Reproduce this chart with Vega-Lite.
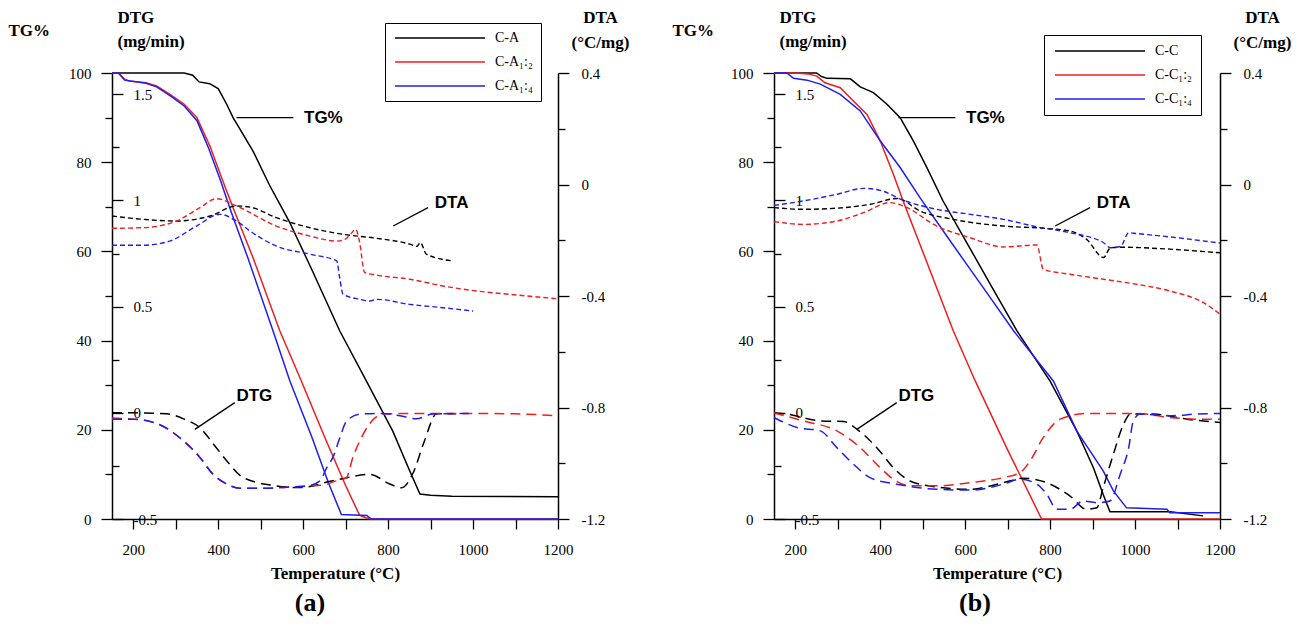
{
"$schema": "https://vega.github.io/schema/vega-lite/v6.json",
"padding": {"left": 8, "top": 8, "right": 5, "bottom": 5},
"background": "white",
"config": {
  "view": {"stroke": null},
  "axis": {"grid": false, "labelFont": "Liberation Serif", "labelFontSize": 15, "labelColor": "#000", "tickColor": "#000", "domainColor": "#000", "titleColor": "#000", "titleFont": "Liberation Serif", "titleFontSize": 17, "titleFontWeight": "bold", "domainWidth": 1.5, "tickWidth": 1.3, "labelFlush": false, "labelOverlap": false},
  "legend": {"labelFont": "Liberation Serif", "labelFontSize": 14, "labelColor": "#000"}
},
"datasets": {
  "ar": [
    {"x": 443, "y": 90, "x2": 577, "y2": 90},
    {"x": 812, "y": 65.7, "x2": 894, "y2": 69.8},
    {"x": 345, "y": 20.1, "x2": 439, "y2": 26.1}
  ],
  "at": [
    {"x": 602, "y": 90, "t": "TG%"},
    {"x": 910, "y": 70.9, "t": "DTA"},
    {"x": 443, "y": 27.6, "t": "DTG"}
  ],
  "a": [
    {"s":"C-A","m":"TG","T":150,"v":100},{"s":"C-A","m":"TG","T":320,"v":100},{"s":"C-A","m":"TG","T":340,"v":99.5},{"s":"C-A","m":"TG","T":355,"v":98},{"s":"C-A","m":"TG","T":380,"v":97.6},{"s":"C-A","m":"TG","T":400,"v":96.5},{"s":"C-A","m":"TG","T":420,"v":93},{"s":"C-A","m":"TG","T":435,"v":90},{"s":"C-A","m":"TG","T":460,"v":86},{"s":"C-A","m":"TG","T":482,"v":82.5},{"s":"C-A","m":"TG","T":520,"v":75},{"s":"C-A","m":"TG","T":569,"v":66.4},{"s":"C-A","m":"TG","T":620,"v":56},{"s":"C-A","m":"TG","T":686,"v":42.2},{"s":"C-A","m":"TG","T":749,"v":30.9},{"s":"C-A","m":"TG","T":811,"v":19.7},{"s":"C-A","m":"TG","T":850,"v":11},{"s":"C-A","m":"TG","T":875,"v":5.6},{"s":"C-A","m":"TG","T":900,"v":5.3},{"s":"C-A","m":"TG","T":950,"v":5.1},{"s":"C-A","m":"TG","T":1200,"v":5},
    {"s":"C-A₁:₂","m":"TG","T":150,"v":100},{"s":"C-A₁:₂","m":"TG","T":165,"v":100},{"s":"C-A₁:₂","m":"TG","T":180,"v":98.6},{"s":"C-A₁:₂","m":"TG","T":190,"v":98.2},{"s":"C-A₁:₂","m":"TG","T":230,"v":97.8},{"s":"C-A₁:₂","m":"TG","T":255,"v":97.1},{"s":"C-A₁:₂","m":"TG","T":270,"v":96.2},{"s":"C-A₁:₂","m":"TG","T":290,"v":95},{"s":"C-A₁:₂","m":"TG","T":320,"v":93},{"s":"C-A₁:₂","m":"TG","T":350,"v":90},{"s":"C-A₁:₂","m":"TG","T":381,"v":83.5},{"s":"C-A₁:₂","m":"TG","T":410,"v":76},{"s":"C-A₁:₂","m":"TG","T":435,"v":69.8},{"s":"C-A₁:₂","m":"TG","T":482,"v":58.6},{"s":"C-A₁:₂","m":"TG","T":545,"v":42.2},{"s":"C-A₁:₂","m":"TG","T":596,"v":30.9},{"s":"C-A₁:₂","m":"TG","T":650,"v":18.5},{"s":"C-A₁:₂","m":"TG","T":700,"v":7.5},{"s":"C-A₁:₂","m":"TG","T":733,"v":0.8},{"s":"C-A₁:₂","m":"TG","T":748,"v":0.3},{"s":"C-A₁:₂","m":"TG","T":760,"v":0},{"s":"C-A₁:₂","m":"TG","T":1200,"v":0},
    {"s":"C-A₁:₄","m":"TG","T":150,"v":100},{"s":"C-A₁:₄","m":"TG","T":165,"v":100},{"s":"C-A₁:₄","m":"TG","T":180,"v":98.4},{"s":"C-A₁:₄","m":"TG","T":230,"v":97.7},{"s":"C-A₁:₄","m":"TG","T":255,"v":96.9},{"s":"C-A₁:₄","m":"TG","T":290,"v":94.7},{"s":"C-A₁:₄","m":"TG","T":320,"v":92.6},{"s":"C-A₁:₄","m":"TG","T":350,"v":89.3},{"s":"C-A₁:₄","m":"TG","T":378,"v":83},{"s":"C-A₁:₄","m":"TG","T":405,"v":76},{"s":"C-A₁:₄","m":"TG","T":430,"v":69},{"s":"C-A₁:₄","m":"TG","T":470,"v":58.5},{"s":"C-A₁:₄","m":"TG","T":529,"v":42.2},{"s":"C-A₁:₄","m":"TG","T":569,"v":30.9},{"s":"C-A₁:₄","m":"TG","T":620,"v":18.5},{"s":"C-A₁:₄","m":"TG","T":660,"v":8},{"s":"C-A₁:₄","m":"TG","T":690,"v":1},{"s":"C-A₁:₄","m":"TG","T":750,"v":0.8},{"s":"C-A₁:₄","m":"TG","T":760,"v":0},{"s":"C-A₁:₄","m":"TG","T":1200,"v":0},
    {"s":"C-A","m":"DTG","T":150,"v":0},{"s":"C-A","m":"DTG","T":200,"v":0},{"s":"C-A","m":"DTG","T":279,"v":-0.005},{"s":"C-A","m":"DTG","T":320,"v":-0.03},{"s":"C-A","m":"DTG","T":357,"v":-0.07},{"s":"C-A","m":"DTG","T":390,"v":-0.15},{"s":"C-A","m":"DTG","T":420,"v":-0.226},{"s":"C-A","m":"DTG","T":459,"v":-0.305},{"s":"C-A","m":"DTG","T":537,"v":-0.344},{"s":"C-A","m":"DTG","T":592,"v":-0.352},{"s":"C-A","m":"DTG","T":670,"v":-0.32},{"s":"C-A","m":"DTG","T":757,"v":-0.29},{"s":"C-A","m":"DTG","T":804,"v":-0.335},{"s":"C-A","m":"DTG","T":832,"v":-0.353},{"s":"C-A","m":"DTG","T":858,"v":-0.287},{"s":"C-A","m":"DTG","T":886,"v":-0.13},{"s":"C-A","m":"DTG","T":914,"v":-0.005},{"s":"C-A","m":"DTG","T":960,"v":-0.005},
    {"s":"C-A₁:₂","m":"DTG","T":150,"v":-0.025},{"s":"C-A₁:₂","m":"DTG","T":200,"v":-0.03},{"s":"C-A₁:₂","m":"DTG","T":255,"v":-0.05},{"s":"C-A₁:₂","m":"DTG","T":317,"v":-0.13},{"s":"C-A₁:₂","m":"DTG","T":357,"v":-0.21},{"s":"C-A₁:₂","m":"DTG","T":388,"v":-0.29},{"s":"C-A₁:₂","m":"DTG","T":420,"v":-0.335},{"s":"C-A₁:₂","m":"DTG","T":451,"v":-0.355},{"s":"C-A₁:₂","m":"DTG","T":514,"v":-0.355},{"s":"C-A₁:₂","m":"DTG","T":561,"v":-0.35},{"s":"C-A₁:₂","m":"DTG","T":608,"v":-0.345},{"s":"C-A₁:₂","m":"DTG","T":650,"v":-0.34},{"s":"C-A₁:₂","m":"DTG","T":670,"v":-0.325},{"s":"C-A₁:₂","m":"DTG","T":702,"v":-0.305},{"s":"C-A₁:₂","m":"DTG","T":717,"v":-0.21},{"s":"C-A₁:₂","m":"DTG","T":734,"v":-0.13},{"s":"C-A₁:₂","m":"DTG","T":757,"v":-0.05},{"s":"C-A₁:₂","m":"DTG","T":788,"v":-0.006},{"s":"C-A₁:₂","m":"DTG","T":850,"v":-0.003},{"s":"C-A₁:₂","m":"DTG","T":1000,"v":-0.003},{"s":"C-A₁:₂","m":"DTG","T":1100,"v":-0.005},{"s":"C-A₁:₂","m":"DTG","T":1200,"v":-0.014},
    {"s":"C-A₁:₄","m":"DTG","T":150,"v":-0.03},{"s":"C-A₁:₄","m":"DTG","T":200,"v":-0.03},{"s":"C-A₁:₄","m":"DTG","T":255,"v":-0.05},{"s":"C-A₁:₄","m":"DTG","T":317,"v":-0.13},{"s":"C-A₁:₄","m":"DTG","T":357,"v":-0.21},{"s":"C-A₁:₄","m":"DTG","T":388,"v":-0.29},{"s":"C-A₁:₄","m":"DTG","T":420,"v":-0.335},{"s":"C-A₁:₄","m":"DTG","T":451,"v":-0.355},{"s":"C-A₁:₄","m":"DTG","T":514,"v":-0.355},{"s":"C-A₁:₄","m":"DTG","T":561,"v":-0.35},{"s":"C-A₁:₄","m":"DTG","T":608,"v":-0.345},{"s":"C-A₁:₄","m":"DTG","T":640,"v":-0.32},{"s":"C-A₁:₄","m":"DTG","T":655,"v":-0.26},{"s":"C-A₁:₄","m":"DTG","T":670,"v":-0.21},{"s":"C-A₁:₄","m":"DTG","T":686,"v":-0.12},{"s":"C-A₁:₄","m":"DTG","T":702,"v":-0.04},{"s":"C-A₁:₄","m":"DTG","T":734,"v":-0.006},{"s":"C-A₁:₄","m":"DTG","T":788,"v":-0.003},{"s":"C-A₁:₄","m":"DTG","T":828,"v":-0.014},{"s":"C-A₁:₄","m":"DTG","T":867,"v":-0.028},{"s":"C-A₁:₄","m":"DTG","T":905,"v":-0.006},{"s":"C-A₁:₄","m":"DTG","T":990,"v":-0.003},
    {"s":"C-A","m":"DTA","T":150,"v":-0.113},{"s":"C-A","m":"DTA","T":223,"v":-0.125},{"s":"C-A","m":"DTA","T":302,"v":-0.131},{"s":"C-A","m":"DTA","T":381,"v":-0.113},{"s":"C-A","m":"DTA","T":443,"v":-0.077},{"s":"C-A","m":"DTA","T":475,"v":-0.081},{"s":"C-A","m":"DTA","T":537,"v":-0.119},{"s":"C-A","m":"DTA","T":616,"v":-0.155},{"s":"C-A","m":"DTA","T":695,"v":-0.179},{"s":"C-A","m":"DTA","T":773,"v":-0.193},{"s":"C-A","m":"DTA","T":851,"v":-0.214},{"s":"C-A","m":"DTA","T":868,"v":-0.222},{"s":"C-A","m":"DTA","T":876,"v":-0.208},{"s":"C-A","m":"DTA","T":890,"v":-0.25},{"s":"C-A","m":"DTA","T":952,"v":-0.274},
    {"s":"C-A₁:₂","m":"DTA","T":150,"v":-0.157},{"s":"C-A₁:₂","m":"DTA","T":223,"v":-0.155},{"s":"C-A₁:₂","m":"DTA","T":302,"v":-0.131},{"s":"C-A₁:₂","m":"DTA","T":357,"v":-0.083},{"s":"C-A₁:₂","m":"DTA","T":396,"v":-0.051},{"s":"C-A₁:₂","m":"DTA","T":443,"v":-0.077},{"s":"C-A₁:₂","m":"DTA","T":537,"v":-0.149},{"s":"C-A₁:₂","m":"DTA","T":616,"v":-0.185},{"s":"C-A₁:₂","m":"DTA","T":679,"v":-0.203},{"s":"C-A₁:₂","m":"DTA","T":700,"v":-0.195},{"s":"C-A₁:₂","m":"DTA","T":711,"v":-0.179},{"s":"C-A₁:₂","m":"DTA","T":724,"v":-0.161},{"s":"C-A₁:₂","m":"DTA","T":732,"v":-0.2},{"s":"C-A₁:₂","m":"DTA","T":745,"v":-0.316},{"s":"C-A₁:₂","m":"DTA","T":773,"v":-0.325},{"s":"C-A₁:₂","m":"DTA","T":851,"v":-0.34},{"s":"C-A₁:₂","m":"DTA","T":929,"v":-0.364},{"s":"C-A₁:₂","m":"DTA","T":1008,"v":-0.382},{"s":"C-A₁:₂","m":"DTA","T":1086,"v":-0.394},{"s":"C-A₁:₂","m":"DTA","T":1200,"v":-0.41},
    {"s":"C-A₁:₄","m":"DTA","T":150,"v":-0.218},{"s":"C-A₁:₄","m":"DTA","T":223,"v":-0.218},{"s":"C-A₁:₄","m":"DTA","T":286,"v":-0.203},{"s":"C-A₁:₄","m":"DTA","T":349,"v":-0.149},{"s":"C-A₁:₄","m":"DTA","T":404,"v":-0.107},{"s":"C-A₁:₄","m":"DTA","T":443,"v":-0.131},{"s":"C-A₁:₄","m":"DTA","T":475,"v":-0.167},{"s":"C-A₁:₄","m":"DTA","T":537,"v":-0.221},{"s":"C-A₁:₄","m":"DTA","T":616,"v":-0.25},{"s":"C-A₁:₄","m":"DTA","T":679,"v":-0.274},{"s":"C-A₁:₄","m":"DTA","T":686,"v":-0.334},{"s":"C-A₁:₄","m":"DTA","T":694,"v":-0.394},{"s":"C-A₁:₄","m":"DTA","T":734,"v":-0.412},{"s":"C-A₁:₄","m":"DTA","T":757,"v":-0.418},{"s":"C-A₁:₄","m":"DTA","T":773,"v":-0.412},{"s":"C-A₁:₄","m":"DTA","T":851,"v":-0.43},{"s":"C-A₁:₄","m":"DTA","T":929,"v":-0.442},{"s":"C-A₁:₄","m":"DTA","T":1000,"v":-0.454}
  ],
  "b": [
    {"s":"C-C","m":"TG","T":150,"v":100},{"s":"C-C","m":"TG","T":250,"v":100},{"s":"C-C","m":"TG","T":262,"v":99.2},{"s":"C-C","m":"TG","T":275,"v":98.8},{"s":"C-C","m":"TG","T":330,"v":98.7},{"s":"C-C","m":"TG","T":353,"v":96.9},{"s":"C-C","m":"TG","T":384,"v":95.6},{"s":"C-C","m":"TG","T":416,"v":93},{"s":"C-C","m":"TG","T":447,"v":90},{"s":"C-C","m":"TG","T":478,"v":84.8},{"s":"C-C","m":"TG","T":510,"v":78.8},{"s":"C-C","m":"TG","T":548,"v":71.3},{"s":"C-C","m":"TG","T":600,"v":62.6},{"s":"C-C","m":"TG","T":660,"v":52.5},{"s":"C-C","m":"TG","T":722,"v":42.2},{"s":"C-C","m":"TG","T":800,"v":30.9},{"s":"C-C","m":"TG","T":863,"v":19.7},{"s":"C-C","m":"TG","T":902,"v":11.5},{"s":"C-C","m":"TG","T":925,"v":5.5},{"s":"C-C","m":"TG","T":941,"v":1.6},{"s":"C-C","m":"TG","T":1083,"v":1.6},{"s":"C-C","m":"TG","T":1160,"v":0.7},
    {"s":"C-C₁:₂","m":"TG","T":150,"v":100},{"s":"C-C₁:₂","m":"TG","T":200,"v":100},{"s":"C-C₁:₂","m":"TG","T":230,"v":99.8},{"s":"C-C₁:₂","m":"TG","T":251,"v":99.3},{"s":"C-C₁:₂","m":"TG","T":270,"v":97.8},{"s":"C-C₁:₂","m":"TG","T":306,"v":96.7},{"s":"C-C₁:₂","m":"TG","T":337,"v":93.7},{"s":"C-C₁:₂","m":"TG","T":369,"v":90.7},{"s":"C-C₁:₂","m":"TG","T":400,"v":84.8},{"s":"C-C₁:₂","m":"TG","T":431,"v":77.3},{"s":"C-C₁:₂","m":"TG","T":454,"v":71.3},{"s":"C-C₁:₂","m":"TG","T":500,"v":60},{"s":"C-C₁:₂","m":"TG","T":572,"v":42.2},{"s":"C-C₁:₂","m":"TG","T":624,"v":30.9},{"s":"C-C₁:₂","m":"TG","T":700,"v":15.5},{"s":"C-C₁:₂","m":"TG","T":780,"v":0},{"s":"C-C₁:₂","m":"TG","T":1200,"v":0},
    {"s":"C-C₁:₄","m":"TG","T":150,"v":100},{"s":"C-C₁:₄","m":"TG","T":180,"v":100},{"s":"C-C₁:₄","m":"TG","T":196,"v":98.8},{"s":"C-C₁:₄","m":"TG","T":228,"v":98.4},{"s":"C-C₁:₄","m":"TG","T":259,"v":97.5},{"s":"C-C₁:₄","m":"TG","T":306,"v":95.2},{"s":"C-C₁:₄","m":"TG","T":353,"v":91.5},{"s":"C-C₁:₄","m":"TG","T":400,"v":84.8},{"s":"C-C₁:₄","m":"TG","T":447,"v":78.8},{"s":"C-C₁:₄","m":"TG","T":494,"v":72},{"s":"C-C₁:₄","m":"TG","T":560,"v":63},{"s":"C-C₁:₄","m":"TG","T":640,"v":52.2},{"s":"C-C₁:₄","m":"TG","T":714,"v":42.2},{"s":"C-C₁:₄","m":"TG","T":808,"v":30.9},{"s":"C-C₁:₄","m":"TG","T":863,"v":19.7},{"s":"C-C₁:₄","m":"TG","T":925,"v":10.8},{"s":"C-C₁:₄","m":"TG","T":949,"v":6.3},{"s":"C-C₁:₄","m":"TG","T":980,"v":2.5},{"s":"C-C₁:₄","m":"TG","T":1075,"v":2.2},{"s":"C-C₁:₄","m":"TG","T":1082,"v":1.4},{"s":"C-C₁:₄","m":"TG","T":1200,"v":1.4},
    {"s":"C-C","m":"DTG","T":150,"v":0},{"s":"C-C","m":"DTG","T":180,"v":-0.006},{"s":"C-C","m":"DTG","T":259,"v":-0.038},{"s":"C-C","m":"DTG","T":314,"v":-0.041},{"s":"C-C","m":"DTG","T":345,"v":-0.077},{"s":"C-C","m":"DTG","T":392,"v":-0.164},{"s":"C-C","m":"DTG","T":431,"v":-0.258},{"s":"C-C","m":"DTG","T":470,"v":-0.321},{"s":"C-C","m":"DTG","T":533,"v":-0.349},{"s":"C-C","m":"DTG","T":612,"v":-0.36},{"s":"C-C","m":"DTG","T":690,"v":-0.329},{"s":"C-C","m":"DTG","T":737,"v":-0.308},{"s":"C-C","m":"DTG","T":792,"v":-0.329},{"s":"C-C","m":"DTG","T":847,"v":-0.392},{"s":"C-C","m":"DTG","T":886,"v":-0.454},{"s":"C-C","m":"DTG","T":910,"v":-0.447},{"s":"C-C","m":"DTG","T":925,"v":-0.352},{"s":"C-C","m":"DTG","T":949,"v":-0.195},{"s":"C-C","m":"DTG","T":973,"v":-0.053},{"s":"C-C","m":"DTG","T":989,"v":-0.006},{"s":"C-C","m":"DTG","T":1043,"v":-0.006},{"s":"C-C","m":"DTG","T":1122,"v":-0.03},{"s":"C-C","m":"DTG","T":1200,"v":-0.046},
    {"s":"C-C₁:₂","m":"DTG","T":150,"v":0},{"s":"C-C₁:₂","m":"DTG","T":219,"v":-0.038},{"s":"C-C₁:₂","m":"DTG","T":298,"v":-0.085},{"s":"C-C₁:₂","m":"DTG","T":353,"v":-0.164},{"s":"C-C₁:₂","m":"DTG","T":400,"v":-0.258},{"s":"C-C₁:₂","m":"DTG","T":431,"v":-0.313},{"s":"C-C₁:₂","m":"DTG","T":470,"v":-0.344},{"s":"C-C₁:₂","m":"DTG","T":533,"v":-0.344},{"s":"C-C₁:₂","m":"DTG","T":612,"v":-0.329},{"s":"C-C₁:₂","m":"DTG","T":690,"v":-0.305},{"s":"C-C₁:₂","m":"DTG","T":729,"v":-0.282},{"s":"C-C₁:₂","m":"DTG","T":753,"v":-0.226},{"s":"C-C₁:₂","m":"DTG","T":784,"v":-0.116},{"s":"C-C₁:₂","m":"DTG","T":824,"v":-0.03},{"s":"C-C₁:₂","m":"DTG","T":887,"v":-0.003},{"s":"C-C₁:₂","m":"DTG","T":1004,"v":-0.003},{"s":"C-C₁:₂","m":"DTG","T":1082,"v":-0.022},{"s":"C-C₁:₂","m":"DTG","T":1145,"v":-0.03},{"s":"C-C₁:₂","m":"DTG","T":1200,"v":-0.03},
    {"s":"C-C₁:₄","m":"DTG","T":150,"v":-0.022},{"s":"C-C₁:₄","m":"DTG","T":204,"v":-0.069},{"s":"C-C₁:₄","m":"DTG","T":259,"v":-0.085},{"s":"C-C₁:₄","m":"DTG","T":298,"v":-0.164},{"s":"C-C₁:₄","m":"DTG","T":337,"v":-0.242},{"s":"C-C₁:₄","m":"DTG","T":376,"v":-0.305},{"s":"C-C₁:₄","m":"DTG","T":439,"v":-0.336},{"s":"C-C₁:₄","m":"DTG","T":533,"v":-0.36},{"s":"C-C₁:₄","m":"DTG","T":612,"v":-0.364},{"s":"C-C₁:₄","m":"DTG","T":690,"v":-0.336},{"s":"C-C₁:₄","m":"DTG","T":729,"v":-0.313},{"s":"C-C₁:₄","m":"DTG","T":769,"v":-0.336},{"s":"C-C₁:₄","m":"DTG","T":792,"v":-0.383},{"s":"C-C₁:₄","m":"DTG","T":816,"v":-0.454},{"s":"C-C₁:₄","m":"DTG","T":847,"v":-0.454},{"s":"C-C₁:₄","m":"DTG","T":878,"v":-0.415},{"s":"C-C₁:₄","m":"DTG","T":910,"v":-0.423},{"s":"C-C₁:₄","m":"DTG","T":941,"v":-0.415},{"s":"C-C₁:₄","m":"DTG","T":965,"v":-0.289},{"s":"C-C₁:₄","m":"DTG","T":985,"v":-0.164},{"s":"C-C₁:₄","m":"DTG","T":996,"v":-0.038},{"s":"C-C₁:₄","m":"DTG","T":1012,"v":-0.006},{"s":"C-C₁:₄","m":"DTG","T":1082,"v":-0.014},{"s":"C-C₁:₄","m":"DTG","T":1145,"v":-0.006},{"s":"C-C₁:₄","m":"DTG","T":1200,"v":-0.003},
    {"s":"C-C","m":"DTA","T":150,"v":-0.083},{"s":"C-C","m":"DTA","T":219,"v":-0.089},{"s":"C-C","m":"DTA","T":298,"v":-0.085},{"s":"C-C","m":"DTA","T":377,"v":-0.071},{"s":"C-C","m":"DTA","T":440,"v":-0.05},{"s":"C-C","m":"DTA","T":494,"v":-0.095},{"s":"C-C","m":"DTA","T":572,"v":-0.125},{"s":"C-C","m":"DTA","T":690,"v":-0.149},{"s":"C-C","m":"DTA","T":784,"v":-0.157},{"s":"C-C","m":"DTA","T":847,"v":-0.167},{"s":"C-C","m":"DTA","T":886,"v":-0.197},{"s":"C-C","m":"DTA","T":926,"v":-0.262},{"s":"C-C","m":"DTA","T":942,"v":-0.227},{"s":"C-C","m":"DTA","T":966,"v":-0.225},{"s":"C-C","m":"DTA","T":1082,"v":-0.232},{"s":"C-C","m":"DTA","T":1200,"v":-0.245},
    {"s":"C-C₁:₂","m":"DTA","T":150,"v":-0.133},{"s":"C-C₁:₂","m":"DTA","T":219,"v":-0.143},{"s":"C-C₁:₂","m":"DTA","T":298,"v":-0.131},{"s":"C-C₁:₂","m":"DTA","T":361,"v":-0.101},{"s":"C-C₁:₂","m":"DTA","T":423,"v":-0.065},{"s":"C-C₁:₂","m":"DTA","T":455,"v":-0.077},{"s":"C-C₁:₂","m":"DTA","T":533,"v":-0.149},{"s":"C-C₁:₂","m":"DTA","T":612,"v":-0.191},{"s":"C-C₁:₂","m":"DTA","T":690,"v":-0.224},{"s":"C-C₁:₂","m":"DTA","T":769,"v":-0.217},{"s":"C-C₁:₂","m":"DTA","T":784,"v":-0.304},{"s":"C-C₁:₂","m":"DTA","T":847,"v":-0.322},{"s":"C-C₁:₂","m":"DTA","T":926,"v":-0.34},{"s":"C-C₁:₂","m":"DTA","T":1004,"v":-0.358},{"s":"C-C₁:₂","m":"DTA","T":1082,"v":-0.382},{"s":"C-C₁:₂","m":"DTA","T":1161,"v":-0.424},{"s":"C-C₁:₂","m":"DTA","T":1200,"v":-0.465},
    {"s":"C-C₁:₄","m":"DTA","T":150,"v":-0.075},{"s":"C-C₁:₄","m":"DTA","T":219,"v":-0.059},{"s":"C-C₁:₄","m":"DTA","T":298,"v":-0.035},{"s":"C-C₁:₄","m":"DTA","T":361,"v":-0.014},{"s":"C-C₁:₄","m":"DTA","T":400,"v":-0.021},{"s":"C-C₁:₄","m":"DTA","T":455,"v":-0.057},{"s":"C-C₁:₄","m":"DTA","T":533,"v":-0.089},{"s":"C-C₁:₄","m":"DTA","T":612,"v":-0.107},{"s":"C-C₁:₄","m":"DTA","T":690,"v":-0.125},{"s":"C-C₁:₄","m":"DTA","T":769,"v":-0.152},{"s":"C-C₁:₄","m":"DTA","T":847,"v":-0.173},{"s":"C-C₁:₄","m":"DTA","T":926,"v":-0.209},{"s":"C-C₁:₄","m":"DTA","T":942,"v":-0.227},{"s":"C-C₁:₄","m":"DTA","T":966,"v":-0.222},{"s":"C-C₁:₄","m":"DTA","T":985,"v":-0.173},{"s":"C-C₁:₄","m":"DTA","T":1004,"v":-0.176},{"s":"C-C₁:₄","m":"DTA","T":1082,"v":-0.188},{"s":"C-C₁:₄","m":"DTA","T":1200,"v":-0.21}
  ]
},
"spacing": 216,
"bounds": "flush",
"resolve": {"scale": {"color": "independent"}, "legend": {"color": "independent"}},
"hconcat": [
  {
    "width": 446, "height": 446,
    "title": {"text": "(a)", "orient": "bottom", "font": "Liberation Serif", "fontSize": 26, "fontWeight": "bold", "color": "#000", "offset": 9, "dx": -25},
    "layer": [
      {"data": {"name": "a"}, "transform": [{"filter": "datum.m === 'TG'"}],
       "mark": {"type": "line", "strokeWidth": 1.5},
       "encoding": {
         "x": {"field": "T", "type": "quantitative", "scale": {"domain": [150, 1200], "nice": false, "zero": false},
               "axis": {"title": "Temperature (°C)", "values": [200,300,400,500,600,700,800,900,1000,1100,1200], "labelExpr": "datum.value % 200 === 0 ? '' + datum.value : ''", "tickSize": 10, "labelPadding": 13, "titlePadding": 8}},
         "y": {"field": "v", "type": "quantitative", "scale": {"domain": [0, 100], "nice": false, "zero": false},
               "axis": {"orient": "left", "title": "TG%", "titleAngle": 0, "titleAlign": "left", "titleBaseline": "alphabetic", "titleX": -104, "titleY": -38, "values": [0,10,20,30,40,50,60,70,80,90,100], "labelExpr": "datum.value % 20 === 0 ? '' + datum.value : ''", "tickSize": {"condition": {"test": "datum.value % 20 === 0", "value": 11}, "value": 7}, "labelPadding": 10}},
         "color": {"field": "s", "type": "nominal", "scale": {"domain": ["C-A", "C-A₁:₂", "C-A₁:₄"], "range": ["#000000", "#f01e1e", "#1e1ef0"]},
                   "legend": {"orient": "none", "legendX": 273, "legendY": -50, "title": null, "symbolType": "M-9,0H9", "symbolSize": 100, "symbolOffset": 40, "labelOffset": 48, "symbolStrokeWidth": 1.5, "padding": 8, "rowPadding": 10, "strokeColor": "#000"}}
       }},
      {"data": {"name": "a"}, "transform": [{"filter": "datum.m === 'DTG'"}],
       "mark": {"type": "line", "strokeWidth": 1.5, "strokeDash": [10, 6], "interpolate": "monotone"},
       "encoding": {
         "x": {"field": "T", "type": "quantitative"},
         "y": {"field": "v", "type": "quantitative", "scale": {"domain": [-0.5, 1.6], "nice": false, "zero": false},
               "axis": {"orient": "left", "title": ["DTG", "(mg/min)"], "titleAngle": 0, "titleAlign": "left", "titleBaseline": "alphabetic", "titleX": 5, "titleY": -51, "titleLineHeight": 24, "values": [-0.5,-0.25,0,0.25,0.5,0.75,1,1.25,1.5], "labelExpr": "abs(datum.value*2 - round(datum.value*2)) < 0.001 ? '' + datum.value : ''", "tickSize": {"condition": {"test": "abs(datum.value*2 - round(datum.value*2)) < 0.001", "value": -11}, "value": -7}, "labelAlign": "left", "labelPadding": -10, "domain": false}},
         "color": {"field": "s", "type": "nominal", "scale": {"domain": ["C-A", "C-A₁:₂", "C-A₁:₄"], "range": ["#000000", "#f01e1e", "#1e1ef0"]}, "legend": null}
       }},
      {"data": {"name": "a"}, "transform": [{"filter": "datum.m === 'DTA'"}],
       "mark": {"type": "line", "strokeWidth": 1.4, "strokeDash": [5, 3], "interpolate": "monotone"},
       "encoding": {
         "x": {"field": "T", "type": "quantitative"},
         "y": {"field": "v", "type": "quantitative", "scale": {"domain": [-1.2, 0.4], "nice": false, "zero": false},
               "axis": {"orient": "right", "title": ["DTA", "(°C/mg)"], "titleAngle": 0, "titleAlign": "center", "titleBaseline": "alphabetic", "titleX": 42, "titleY": -51, "titleLineHeight": 25, "values": [-1.2,-1,-0.8,-0.6,-0.4,-0.2,0,0.2,0.4], "labelExpr": "abs(datum.value/0.4 - round(datum.value/0.4)) < 0.01 ? '' + datum.value : ''", "tickSize": {"condition": {"test": "abs(datum.value/0.4 - round(datum.value/0.4)) < 0.01", "value": 11}, "value": 7}, "labelPadding": 12}},
         "color": {"field": "s", "type": "nominal", "scale": {"domain": ["C-A", "C-A₁:₂", "C-A₁:₄"], "range": ["#000000", "#f01e1e", "#1e1ef0"]}, "legend": null}
       }},
      {"data": {"name": "ar"}, "mark": {"type": "rule", "color": "#000", "strokeWidth": 1.3},
       "encoding": {"x": {"field": "x", "type": "quantitative"}, "y": {"field": "y", "type": "quantitative", "scale": {"domain": [0, 100], "nice": false, "zero": false}, "axis": null}, "x2": {"field": "x2"}, "y2": {"field": "y2"}}},
      {"data": {"name": "at"}, "mark": {"type": "text", "font": "Liberation Sans", "fontSize": 17, "fontWeight": "bold", "align": "left", "baseline": "middle", "color": "#000"},
       "encoding": {"x": {"field": "x", "type": "quantitative"}, "y": {"field": "y", "type": "quantitative", "scale": {"domain": [0, 100], "nice": false, "zero": false}, "axis": null}, "text": {"field": "t"}}}
    ],
    "resolve": {"scale": {"y": "independent"}}
  },
  {
    "width": 446, "height": 446,
    "title": {"text": "(b)", "orient": "bottom", "font": "Liberation Serif", "fontSize": 26, "fontWeight": "bold", "color": "#000", "offset": 9, "dx": -22},
    "layer": [
      {"data": {"name": "b"}, "transform": [{"filter": "datum.m === 'TG'"}],
       "mark": {"type": "line", "strokeWidth": 1.5},
       "encoding": {
         "x": {"field": "T", "type": "quantitative", "scale": {"domain": [150, 1200], "nice": false, "zero": false},
               "axis": {"title": "Temperature (°C)", "values": [200,300,400,500,600,700,800,900,1000,1100,1200], "labelExpr": "datum.value % 200 === 0 ? '' + datum.value : ''", "tickSize": 10, "labelPadding": 13, "titlePadding": 8}},
         "y": {"field": "v", "type": "quantitative", "scale": {"domain": [0, 100], "nice": false, "zero": false},
               "axis": {"orient": "left", "title": "TG%", "titleAngle": 0, "titleAlign": "left", "titleBaseline": "alphabetic", "titleX": -102, "titleY": -38, "values": [0,10,20,30,40,50,60,70,80,90,100], "labelExpr": "datum.value % 20 === 0 ? '' + datum.value : ''", "tickSize": {"condition": {"test": "datum.value % 20 === 0", "value": 11}, "value": 7}, "labelPadding": 10}},
         "color": {"field": "s", "type": "nominal", "scale": {"domain": ["C-C", "C-C₁:₂", "C-C₁:₄"], "range": ["#000000", "#f01e1e", "#1e1ef0"]},
                   "legend": {"orient": "none", "legendX": 270, "legendY": -38, "title": null, "symbolType": "M-9,0H9", "symbolSize": 100, "symbolOffset": 40, "labelOffset": 48, "symbolStrokeWidth": 1.5, "padding": 9, "rowPadding": 10, "strokeColor": "#000"}}
       }},
      {"data": {"name": "b"}, "transform": [{"filter": "datum.m === 'DTG'"}],
       "mark": {"type": "line", "strokeWidth": 1.5, "strokeDash": [10, 6], "interpolate": "monotone"},
       "encoding": {
         "x": {"field": "T", "type": "quantitative"},
         "y": {"field": "v", "type": "quantitative", "scale": {"domain": [-0.5, 1.6], "nice": false, "zero": false},
               "axis": {"orient": "left", "title": ["DTG", "(mg/min)"], "titleAngle": 0, "titleAlign": "left", "titleBaseline": "alphabetic", "titleX": 5, "titleY": -51, "titleLineHeight": 24, "values": [-0.5,-0.25,0,0.25,0.5,0.75,1,1.25,1.5], "labelExpr": "abs(datum.value*2 - round(datum.value*2)) < 0.001 ? '' + datum.value : ''", "tickSize": {"condition": {"test": "abs(datum.value*2 - round(datum.value*2)) < 0.001", "value": -11}, "value": -7}, "labelAlign": "left", "labelPadding": -10, "domain": false}},
         "color": {"field": "s", "type": "nominal", "scale": {"domain": ["C-C", "C-C₁:₂", "C-C₁:₄"], "range": ["#000000", "#f01e1e", "#1e1ef0"]}, "legend": null}
       }},
      {"data": {"name": "b"}, "transform": [{"filter": "datum.m === 'DTA'"}],
       "mark": {"type": "line", "strokeWidth": 1.4, "strokeDash": [5, 3], "interpolate": "monotone"},
       "encoding": {
         "x": {"field": "T", "type": "quantitative"},
         "y": {"field": "v", "type": "quantitative", "scale": {"domain": [-1.2, 0.4], "nice": false, "zero": false},
               "axis": {"orient": "right", "title": ["DTA", "(°C/mg)"], "titleAngle": 0, "titleAlign": "center", "titleBaseline": "alphabetic", "titleX": 42, "titleY": -51, "titleLineHeight": 25, "values": [-1.2,-1,-0.8,-0.6,-0.4,-0.2,0,0.2,0.4], "labelExpr": "abs(datum.value/0.4 - round(datum.value/0.4)) < 0.01 ? '' + datum.value : ''", "tickSize": {"condition": {"test": "abs(datum.value/0.4 - round(datum.value/0.4)) < 0.01", "value": 11}, "value": 7}, "labelPadding": 12}},
         "color": {"field": "s", "type": "nominal", "scale": {"domain": ["C-C", "C-C₁:₂", "C-C₁:₄"], "range": ["#000000", "#f01e1e", "#1e1ef0"]}, "legend": null}
       }},
      {"data": {"name": "ar"}, "mark": {"type": "rule", "color": "#000", "strokeWidth": 1.3},
       "encoding": {"x": {"field": "x", "type": "quantitative"}, "y": {"field": "y", "type": "quantitative", "scale": {"domain": [0, 100], "nice": false, "zero": false}, "axis": null}, "x2": {"field": "x2"}, "y2": {"field": "y2"}}},
      {"data": {"name": "at"}, "mark": {"type": "text", "font": "Liberation Sans", "fontSize": 17, "fontWeight": "bold", "align": "left", "baseline": "middle", "color": "#000"},
       "encoding": {"x": {"field": "x", "type": "quantitative"}, "y": {"field": "y", "type": "quantitative", "scale": {"domain": [0, 100], "nice": false, "zero": false}, "axis": null}, "text": {"field": "t"}}}
    ],
    "resolve": {"scale": {"y": "independent"}}
  }
]
}
